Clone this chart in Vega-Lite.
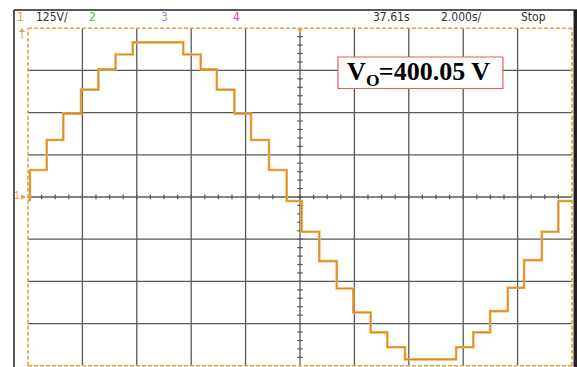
{
  "$schema": "https://vega.github.io/schema/vega-lite/v6.json",
  "width": 577,
  "height": 367,
  "autosize": {"type": "none"},
  "padding": 0,
  "background": "white",
  "config": {"view": {"stroke": null}},
  "datasets": {
    "wave": [
      {"t": 0, "v": -9}, {"t": 0.07, "v": 80}, {"t": 0.69, "v": 169}, {"t": 1.3, "v": 247},
      {"t": 1.95, "v": 318}, {"t": 2.59, "v": 378}, {"t": 3.22, "v": 422}, {"t": 3.85, "v": 458},
      {"t": 5.71, "v": 422}, {"t": 6.35, "v": 378}, {"t": 6.94, "v": 318}, {"t": 7.59, "v": 247},
      {"t": 8.2, "v": 169}, {"t": 8.86, "v": 80}, {"t": 9.51, "v": -12}, {"t": 10.06, "v": -103},
      {"t": 10.71, "v": -190}, {"t": 11.35, "v": -271}, {"t": 11.96, "v": -342}, {"t": 12.6, "v": -401},
      {"t": 13.21, "v": -445}, {"t": 13.86, "v": -481}, {"t": 15.74, "v": -445}, {"t": 16.37, "v": -401},
      {"t": 16.99, "v": -338}, {"t": 17.64, "v": -269}, {"t": 18.24, "v": -187}, {"t": 18.89, "v": -103},
      {"t": 19.5, "v": -12}, {"t": 20, "v": -12}
    ],
    "vgrid": [{"t": 2}, {"t": 4}, {"t": 6}, {"t": 8}, {"t": 10}, {"t": 12}, {"t": 14}, {"t": 16}, {"t": 18}],
    "hgrid": [{"v": -375}, {"v": -250}, {"v": -125}, {"v": 0}, {"v": 125}, {"v": 250}, {"v": 375}],
    "xticks": [
      {"t": 0.5}, {"t": 1}, {"t": 1.5}, {"t": 2}, {"t": 2.5}, {"t": 3}, {"t": 3.5}, {"t": 4}, {"t": 4.5}, {"t": 5},
      {"t": 5.5}, {"t": 6}, {"t": 6.5}, {"t": 7}, {"t": 7.5}, {"t": 8}, {"t": 8.5}, {"t": 9}, {"t": 9.5}, {"t": 10},
      {"t": 10.5}, {"t": 11}, {"t": 11.5}, {"t": 12}, {"t": 12.5}, {"t": 13}, {"t": 13.5}, {"t": 14}, {"t": 14.5}, {"t": 15},
      {"t": 15.5}, {"t": 16}, {"t": 16.5}, {"t": 17}, {"t": 17.5}, {"t": 18}, {"t": 18.5}, {"t": 19}, {"t": 19.5}
    ],
    "yticks": [
      {"v": -475}, {"v": -450}, {"v": -425}, {"v": -400}, {"v": -375}, {"v": -350}, {"v": -325}, {"v": -300},
      {"v": -275}, {"v": -250}, {"v": -225}, {"v": -200}, {"v": -175}, {"v": -150}, {"v": -125}, {"v": -100},
      {"v": -75}, {"v": -50}, {"v": -25}, {"v": 0}, {"v": 25}, {"v": 50}, {"v": 75}, {"v": 100}, {"v": 125},
      {"v": 150}, {"v": 175}, {"v": 200}, {"v": 225}, {"v": 250}, {"v": 275}, {"v": 300}, {"v": 325}, {"v": 350},
      {"v": 375}, {"v": 400}, {"v": 425}, {"v": 450}, {"v": 475}
    ],
    "header": [
      {"label": "1", "t": -0.404, "ch": "1"},
      {"label": "125V/", "t": 0.294, "ch": "info"},
      {"label": "2", "t": 2.243, "ch": "2"},
      {"label": "3", "t": 4.89, "ch": "3"},
      {"label": "4", "t": 7.537, "ch": "4"},
      {"label": "37.61s", "t": 12.684, "ch": "info"},
      {"label": "2.000s/", "t": 15.184, "ch": "info"},
      {"label": "Stop", "t": 18.125, "ch": "info"}
    ]
  },
  "layer": [
    {
      "data": {"name": "wave"},
      "mark": {"type": "line", "interpolate": "step-after", "color": "#F2B45A", "strokeWidth": 2.6, "opacity": 0},
      "encoding": {
        "x": {"field": "t", "type": "quantitative", "scale": {"domain": [-1.029, 20.184], "nice": false, "zero": false}, "axis": null},
        "y": {"field": "v", "type": "quantitative", "scale": {"domain": [-503.6, 583.5], "nice": false, "zero": false}, "axis": null}
      }
    },
    {
      "data": {"name": "vgrid"},
      "mark": {"type": "rule", "color": "#585858", "strokeWidth": 1.3},
      "encoding": {
        "x": {"field": "t", "type": "quantitative", "axis": null},
        "y": {"datum": -500, "axis": null}, "y2": {"datum": 500}
      }
    },
    {
      "data": {"name": "hgrid"},
      "mark": {"type": "rule", "color": "#585858", "strokeWidth": 1.3},
      "encoding": {
        "y": {"field": "v", "type": "quantitative", "axis": null},
        "x": {"datum": 0, "axis": null}, "x2": {"datum": 20}
      }
    },
    {
      "data": {"name": "xticks"},
      "mark": {"type": "rule", "color": "#555555", "strokeWidth": 1.2},
      "encoding": {
        "x": {"field": "t", "type": "quantitative", "axis": null},
        "y": {"datum": -7, "axis": null}, "y2": {"datum": 7}
      }
    },
    {
      "data": {"name": "yticks"},
      "mark": {"type": "rule", "color": "#555555", "strokeWidth": 1.2},
      "encoding": {
        "y": {"field": "v", "type": "quantitative", "axis": null},
        "x": {"datum": 9.9, "axis": null}, "x2": {"datum": 10.1}
      }
    },
    {
      "data": {"values": [{}]},
      "mark": {"type": "rule", "color": "#222222", "strokeWidth": 1.5},
      "encoding": {"x": {"datum": -0.515, "axis": null}, "y": {"datum": -503.6, "axis": null}, "y2": {"datum": 553.9}}
    },
    {
      "data": {"values": [{}]},
      "mark": {"type": "rule", "color": "#222222", "strokeWidth": 1.5},
      "encoding": {"y": {"datum": 553.9, "axis": null}, "x": {"datum": -0.515, "axis": null}, "x2": {"datum": 20.184}}
    },
    {
      "data": {"values": [{}]},
      "mark": {"type": "rule", "color": "#222222", "strokeWidth": 3.5},
      "encoding": {"x": {"datum": 20.12, "axis": null}, "y": {"datum": -503.6, "axis": null}, "y2": {"datum": 553.9}}
    },
    {
      "data": {"values": [{}]},
      "mark": {"type": "rule", "color": "#E8A040", "strokeWidth": 1.6, "strokeDash": [4, 2]},
      "encoding": {"y": {"datum": 500, "axis": null}, "x": {"datum": 0, "axis": null}, "x2": {"datum": 20}}
    },
    {
      "data": {"values": [{}]},
      "mark": {"type": "rule", "color": "#E8A040", "strokeWidth": 1.6, "strokeDash": [4, 2]},
      "encoding": {"y": {"datum": -500, "axis": null}, "x": {"datum": 0, "axis": null}, "x2": {"datum": 20}}
    },
    {
      "data": {"values": [{}]},
      "mark": {"type": "rule", "color": "#E8A040", "strokeWidth": 1.6, "strokeDash": [4, 2]},
      "encoding": {"x": {"datum": 0, "axis": null}, "y": {"datum": -500, "axis": null}, "y2": {"datum": 500}}
    },
    {
      "data": {"values": [{}]},
      "mark": {"type": "rule", "color": "#E8A040", "strokeWidth": 1.6, "strokeDash": [4, 2]},
      "encoding": {"x": {"datum": 20, "axis": null}, "y": {"datum": -500, "axis": null}, "y2": {"datum": 500}}
    },
    {
      "data": {"name": "wave"},
      "mark": {"type": "line", "interpolate": "step-after", "color": "#F2B45A", "strokeWidth": 2.6},
      "encoding": {
        "x": {"field": "t", "type": "quantitative", "axis": null},
        "y": {"field": "v", "type": "quantitative", "axis": null}
      }
    },
    {
      "data": {"name": "wave"},
      "mark": {"type": "line", "interpolate": "step-after", "color": "#DB8A22", "strokeWidth": 1.2},
      "encoding": {
        "x": {"field": "t", "type": "quantitative", "axis": null},
        "y": {"field": "v", "type": "quantitative", "axis": null}
      }
    },
    {
      "data": {"values": [{}]},
      "mark": {"type": "point", "shape": "triangle-down", "filled": true, "color": "#E8A040", "size": 30, "opacity": 1},
      "encoding": {"x": {"datum": 10, "axis": null}, "y": {"datum": 492, "axis": null}}
    },
    {
      "data": {"values": [{}]},
      "mark": {"type": "point", "shape": "triangle-right", "filled": true, "color": "#E8A040", "size": 30, "opacity": 1},
      "encoding": {"x": {"datum": -0.16, "axis": null}, "y": {"datum": 0, "axis": null}}
    },
    {
      "data": {"values": [{}]},
      "mark": {"type": "text", "text": "1", "color": "#E8A040", "fontSize": 10, "font": "Liberation Sans", "align": "right", "baseline": "middle"},
      "encoding": {"x": {"datum": -0.3, "axis": null}, "y": {"datum": 3, "axis": null}}
    },
    {
      "data": {"values": [{}]},
      "mark": {"type": "point", "shape": "triangle-up", "filled": true, "color": "#E8A040", "size": 22, "opacity": 1},
      "encoding": {"x": {"datum": -0.22, "axis": null}, "y": {"datum": 495, "axis": null}}
    },
    {
      "data": {"values": [{}]},
      "mark": {"type": "text", "text": "T", "color": "#E8A040", "fontSize": 10, "font": "Liberation Sans", "align": "center", "baseline": "middle"},
      "encoding": {"x": {"datum": -0.22, "axis": null}, "y": {"datum": 478, "axis": null}}
    },
    {
      "data": {"name": "header"},
      "mark": {"type": "text", "align": "left", "baseline": "alphabetic", "fontSize": 12, "font": "Liberation Sans Narrow, DejaVu Sans Condensed, Liberation Sans"},
      "encoding": {
        "x": {"field": "t", "type": "quantitative", "axis": null},
        "y": {"datum": 520, "axis": null},
        "text": {"field": "label"},
        "color": {"field": "ch", "type": "nominal", "scale": {"domain": ["1", "2", "3", "4", "info"], "range": ["#F0A030", "#5CC040", "#7C9AE0", "#E040B0", "#333333"]}, "legend": null}
      }
    },
    {
      "data": {"values": [{}]},
      "mark": {"type": "rect", "fill": "white", "stroke": "#E06060", "strokeWidth": 1.2},
      "encoding": {"x": {"datum": 11.397, "axis": null}, "x2": {"datum": 17.46}, "y": {"datum": 414.7, "axis": null}, "y2": {"datum": 321.4}}
    },
    {
      "data": {"values": [{}]},
      "mark": {"type": "text", "text": "V", "font": "Liberation Serif", "fontWeight": "bold", "fontSize": 26, "color": "black", "align": "left", "baseline": "alphabetic"},
      "encoding": {"x": {"datum": 11.728, "axis": null}, "y": {"datum": 348, "axis": null}}
    },
    {
      "data": {"values": [{}]},
      "mark": {"type": "text", "text": "O", "font": "Liberation Serif", "fontWeight": "bold", "fontSize": 17.5, "color": "black", "align": "left", "baseline": "alphabetic"},
      "encoding": {"x": {"datum": 12.43, "axis": null}, "y": {"datum": 330, "axis": null}}
    },
    {
      "data": {"values": [{}]},
      "mark": {"type": "text", "text": "=400.05 V", "font": "Liberation Serif", "fontWeight": "bold", "fontSize": 26, "color": "black", "align": "left", "baseline": "alphabetic"},
      "encoding": {"x": {"datum": 12.9, "axis": null}, "y": {"datum": 348, "axis": null}}
    }
  ]
}
